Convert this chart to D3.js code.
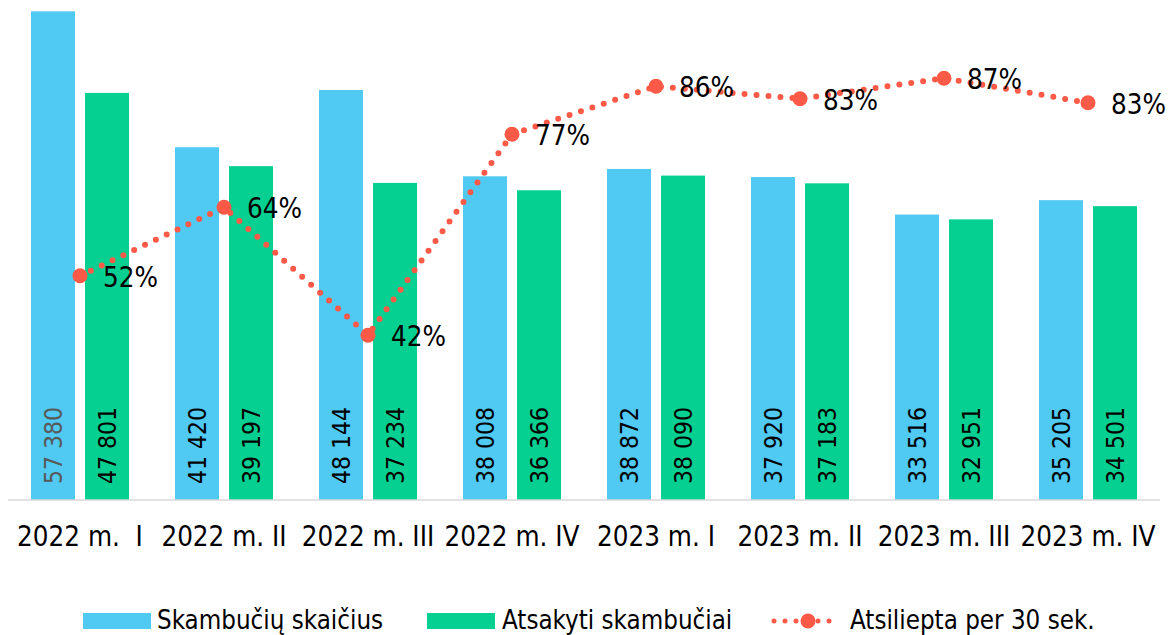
<!DOCTYPE html>
<html>
<head>
<meta charset="utf-8">
<script src="https://cdn.jsdelivr.net/npm/d3@7"></script>
<style>
  body { margin: 0; background: #fff; }
  text { font-family: "DejaVu Sans Condensed", "DejaVu Sans", sans-serif; }
</style>
</head>
<body>
<div id="chart"></div>
<script>
// data
const categories = ["2022 m.  I", "2022 m. II", "2022 m. III", "2022 m. IV",
  "2023 m. I", "2023 m. II", "2023 m. III", "2023 m. IV"];
const calls = [57380, 41420, 48144, 38008, 38872, 37920, 33516, 35205];
const answered = [47801, 39197, 37234, 36366, 38090, 37183, 32951, 34501];
const within30 = [52.4, 64.4, 42.0, 77.2, 85.6, 83.4, 87.0, 82.7];

const seriesNames = ["Skambučių skaičius", "Atsakyti skambučiai", "Atsiliepta per 30 sek."];
const colors = { calls: "#50C9F3", answered: "#05D091", line: "#FF5A47" };

const width = 1175, height = 635;
const svg = d3.select("#chart").append("svg")
  .attr("width", width)
  .attr("height", height);

const x = d3.scaleBand().domain(categories).range([8, 1160]).paddingInner(0).paddingOuter(0);
const y = d3.scaleLinear().domain([0, 60000]).range([500, -11]);
const yP = d3.scaleLinear().domain([0, 100]).range([575, 4]);

const barW = 44, gap = 10;
const cx = d => x(d) + x.bandwidth() / 2;
const fmt = v => d3.format(",")(v).replace(",", " ");

// bars
const groups = svg.append("g").selectAll("g")
  .data(categories)
  .join("g");

groups.append("rect")
  .attr("x", (d) => cx(d) - gap / 2 - barW)
  .attr("y", (d, i) => y(calls[i]))
  .attr("width", barW)
  .attr("height", (d, i) => y(0) - y(calls[i]))
  .attr("fill", colors.calls);

groups.append("rect")
  .attr("x", (d) => cx(d) + gap / 2)
  .attr("y", (d, i) => y(answered[i]))
  .attr("width", barW)
  .attr("height", (d, i) => y(0) - y(answered[i]))
  .attr("fill", colors.answered);

// baseline
svg.append("line")
  .attr("x1", 8).attr("x2", 1160)
  .attr("y1", y(0)).attr("y2", y(0))
  .attr("stroke", "#d9d9d9").attr("stroke-width", 1.5);

// value labels inside bars (rotated)
groups.append("text")
  .attr("transform", d => `translate(${cx(d) - gap / 2 - barW / 2 + 8.5},${y(0) - 16}) rotate(-90)`)
  .attr("font-size", 24.5)
  .attr("fill", (d, i) => i === 0 ? "#595959" : "#000")
  .text((d, i) => fmt(calls[i]));

groups.append("text")
  .attr("transform", d => `translate(${cx(d) + gap / 2 + barW / 2 + 8.5},${y(0) - 16}) rotate(-90)`)
  .attr("font-size", 24.5)
  .attr("fill", "#000")
  .text((d, i) => fmt(answered[i]));

// category labels
svg.append("g").selectAll("text")
  .data(categories)
  .join("text")
  .attr("x", d => cx(d))
  .attr("y", 546)
  .attr("text-anchor", "middle")
  .attr("font-size", 27.5)
  .style("white-space", "pre")
  .text(d => d);

// line
const line = d3.line()
  .x((d, i) => cx(categories[i]))
  .y(d => yP(d));

svg.append("path")
  .datum(within30)
  .attr("d", line)
  .attr("fill", "none")
  .attr("stroke", colors.line)
  .attr("stroke-width", 6)
  .attr("stroke-linecap", "round")
  .attr("stroke-dasharray", "0 12");

svg.append("g").selectAll("circle")
  .data(within30)
  .join("circle")
  .attr("cx", (d, i) => cx(categories[i]))
  .attr("cy", d => yP(d))
  .attr("r", 7.5)
  .attr("fill", colors.line);

svg.append("g").selectAll("text")
  .data(within30)
  .join("text")
  .attr("x", (d, i) => cx(categories[i]) + 23)
  .attr("y", d => yP(d) + 11)
  .attr("font-size", 27.5)
  .attr("fill", "#000")
  .text(d => Math.round(d) + "%");

// legend
const legend = svg.append("g");
legend.append("rect").attr("x", 83).attr("y", 613).attr("width", 68).attr("height", 16).attr("fill", colors.calls);
legend.append("text").attr("x", 157).attr("y", 629).attr("font-size", 25.7).text(seriesNames[0]);
legend.append("rect").attr("x", 427).attr("y", 613).attr("width", 68).attr("height", 16).attr("fill", colors.answered);
legend.append("text").attr("x", 502).attr("y", 629).attr("font-size", 25.7).text(seriesNames[1]);
legend.append("line")
  .attr("x1", 774).attr("x2", 838).attr("y1", 621).attr("y2", 621)
  .attr("stroke", colors.line).attr("stroke-width", 5)
  .attr("stroke-linecap", "round").attr("stroke-dasharray", "0 11");
legend.append("circle").attr("cx", 808).attr("cy", 621).attr("r", 7.5).attr("fill", colors.line);
legend.append("text").attr("x", 850).attr("y", 629).attr("font-size", 25.7).text(seriesNames[2]);
</script>
</body>
</html>
